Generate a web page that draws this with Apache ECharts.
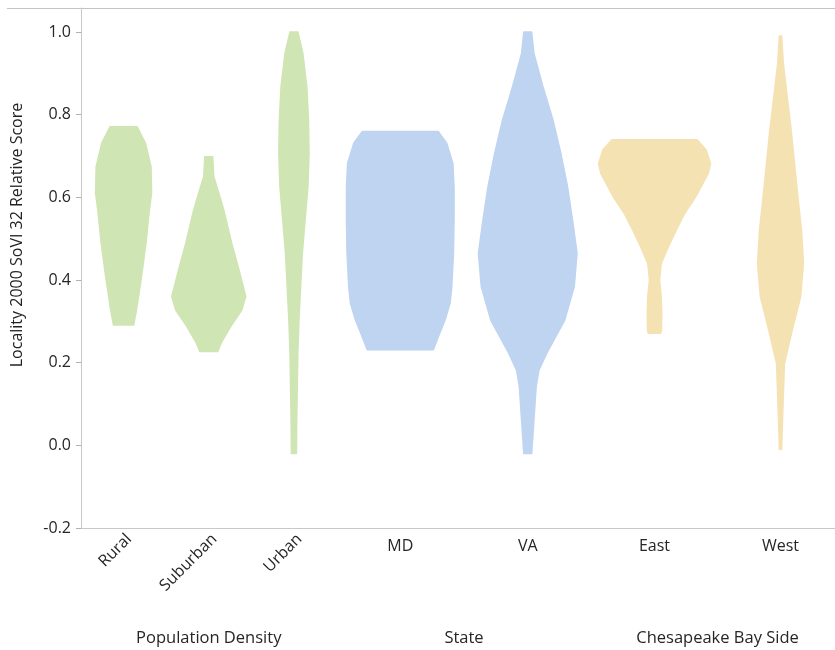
<!DOCTYPE html>
<html>
<head>
<meta charset="utf-8">
<title>Locality 2000 SoVI 32 Relative Score</title>
<script src="https://cdn.jsdelivr.net/npm/echarts@6/dist/echarts.min.js"></script>
<style>
  html, body { margin: 0; padding: 0; background: #ffffff; }
  #chart { width: 835px; height: 650px; }
</style>
</head>
<body>
<div id="chart"></div>
<script>
// Score axis tick labels
const scoreTicks = [-0.2, 0.0, 0.2, 0.4, 0.6, 0.8, 1.0];

// Grouping variables and their levels
const groupNames = ['Population Density', 'State', 'Chesapeake Bay Side'];
const densityLevels = ['Rural', 'Suburban', 'Urban'];
const stateLevels = ['MD', 'VA'];
const bayLevels = ['East', 'West'];

// Violin outlines: score values (top to bottom) and relative density at each score
const ruralScore    = [0.771, 0.731, 0.674, 0.610, 0.569, 0.489, 0.408, 0.327, 0.291];
const ruralDensity  = [0.24, 0.39, 0.49, 0.50, 0.46, 0.40, 0.32, 0.23, 0.18];

const suburbanScore   = [0.698, 0.650, 0.610, 0.569, 0.489, 0.424, 0.360, 0.327, 0.287, 0.247, 0.227];
const suburbanDensity = [0.07, 0.09, 0.18, 0.27, 0.41, 0.54, 0.66, 0.59, 0.39, 0.22, 0.16];

const urbanScore   = [1.000, 0.948, 0.868, 0.787, 0.707, 0.626, 0.545, 0.465, 0.384, 0.303, 0.223, 0.142, 0.061, -0.020];
const urbanDensity = [0.07, 0.16, 0.23, 0.26, 0.27, 0.25, 0.20, 0.15, 0.12, 0.09, 0.07, 0.06, 0.05, 0.045];

const mdScore   = [0.759, 0.731, 0.682, 0.626, 0.545, 0.465, 0.384, 0.344, 0.303, 0.263, 0.231];
const mdDensity = [0.68, 0.83, 0.94, 0.96, 0.96, 0.95, 0.92, 0.89, 0.80, 0.68, 0.59];

const vaScore   = [1.000, 0.948, 0.868, 0.787, 0.707, 0.626, 0.545, 0.465, 0.384, 0.303, 0.223, 0.182, 0.142, 0.061, -0.020];
const vaDensity = [0.07, 0.11, 0.27, 0.45, 0.59, 0.71, 0.80, 0.88, 0.83, 0.66, 0.34, 0.20, 0.15, 0.11, 0.07];

const eastScore   = [0.739, 0.715, 0.682, 0.658, 0.602, 0.561, 0.521, 0.481, 0.440, 0.400, 0.360, 0.319, 0.279, 0.271];
const eastDensity = [0.76, 0.92, 1.00, 0.96, 0.74, 0.54, 0.39, 0.25, 0.12, 0.09, 0.12, 0.13, 0.125, 0.11];

const westScore   = [0.990, 0.924, 0.843, 0.763, 0.682, 0.602, 0.521, 0.440, 0.360, 0.279, 0.198, 0.118, 0.037, -0.010];
const westDensity = [0.02, 0.05, 0.12, 0.19, 0.25, 0.31, 0.375, 0.41, 0.36, 0.21, 0.07, 0.05, 0.03, 0.02];

// Build the per-group profile tables from the arrays above
const groupProfiles = [
  [{ score: ruralScore, density: ruralDensity },
   { score: suburbanScore, density: suburbanDensity },
   { score: urbanScore, density: urbanDensity }],
  [{ score: mdScore, density: mdDensity },
   { score: vaScore, density: vaDensity }],
  [{ score: eastScore, density: eastDensity },
   { score: westScore, density: westDensity }]
];
const groupLevels = [densityLevels, stateLevels, bayLevels];
const groupColors = ['#d0e5b4', '#bed4f1', '#f5e2b3'];

const FONT = '"Open Sans", "Noto Sans", sans-serif';
const TEXT_COLOR = '#262626';
const HALF_WIDTH_PX = 56;   // pixel half-width of a violin at relative density 1
const Y_MIN = -0.2, Y_MAX = 1.058;

const gridBoxes = [
  { left: 81, width: 255.5 },
  { left: 336.5, width: 255 },
  { left: 591.5, width: 252 }
];

function violinItem(profiles, color) {
  return function (params, api) {
    const idx = params.dataIndex;
    const p = profiles[idx];
    const right = [], left = [];
    for (let i = 0; i < p.score.length; i++) {
      const pt = api.coord([idx, p.score[i]]);
      const w = p.density[i] * HALF_WIDTH_PX;
      right.push([pt[0] + w, pt[1]]);
      left.push([pt[0] - w, pt[1]]);
    }
    const points = right.concat(left.reverse());
    return {
      type: 'polygon',
      shape: { points: points },
      style: { fill: color, stroke: color, lineWidth: 1.5, lineJoin: 'round' }
    };
  };
}

const grids = [], xAxes = [], yAxes = [], series = [];
groupLevels.forEach(function (levels, g) {
  grids.push({
    left: gridBoxes[g].left, width: gridBoxes[g].width, top: 8, bottom: 122,
    containLabel: false, outerBoundsMode: 'none'
  });
  xAxes.push({
    type: 'category',
    gridIndex: g,
    data: levels,
    boundaryGap: true,
    name: groupNames[g],
    nameLocation: 'middle',
    nameGap: 102,
    nameTextStyle: { fontFamily: FONT, fontSize: 16.5, color: TEXT_COLOR },
    axisLine: { show: true, onZero: false, lineStyle: { color: '#c8c8c8', width: 1 } },
    axisTick: { show: false },
    axisLabel: g === 0
      ? { rotate: 45, margin: 3, verticalAlign: 'top', fontFamily: FONT, fontSize: 16, color: TEXT_COLOR }
      : { margin: 10, fontFamily: FONT, fontSize: 16, color: TEXT_COLOR },
    splitLine: { show: false }
  });
  yAxes.push({
    type: 'value',
    gridIndex: g,
    min: Y_MIN,
    max: Y_MAX,
    interval: 0.2,
    show: g === 0,
    axisLine: { show: true, lineStyle: { color: '#c8c8c8', width: 1 } },
    axisTick: { show: true, length: 5, lineStyle: { color: '#b0b0b0' }, customValues: scoreTicks },
    axisLabel: {
      customValues: scoreTicks,
      formatter: function (v) { return v.toFixed(1); },
      margin: 10, fontFamily: FONT, fontSize: 16, color: TEXT_COLOR
    },
    splitLine: { show: false }
  });
  series.push({
    type: 'custom',
    xAxisIndex: g,
    yAxisIndex: g,
    renderItem: violinItem(groupProfiles[g], groupColors[g]),
    data: groupProfiles[g].map(function (p, i) { return [i, p.score[0]]; }),
    silent: true
  });
});

const chart = echarts.init(document.getElementById('chart'), null, { renderer: 'canvas' });
chart.setOption({
  animation: false,
  backgroundColor: '#ffffff',
  grid: grids,
  xAxis: xAxes,
  yAxis: yAxes,
  series: series,
  graphic: [
    {
      type: 'line',
      shape: { x1: 7, y1: 8.5, x2: 835, y2: 8.5 },
      style: { stroke: '#c4c4c4', lineWidth: 1 },
      silent: true
    },
    {
      type: 'text',
      x: 17, y: 235,
      rotation: Math.PI / 2,
      style: {
        text: 'Locality 2000 SoVI 32 Relative Score',
        fontFamily: FONT, fontSize: 16, fill: '#222222',
        align: 'center', verticalAlign: 'middle'
      },
      silent: true
    }
  ]
});
</script>
</body>
</html>
